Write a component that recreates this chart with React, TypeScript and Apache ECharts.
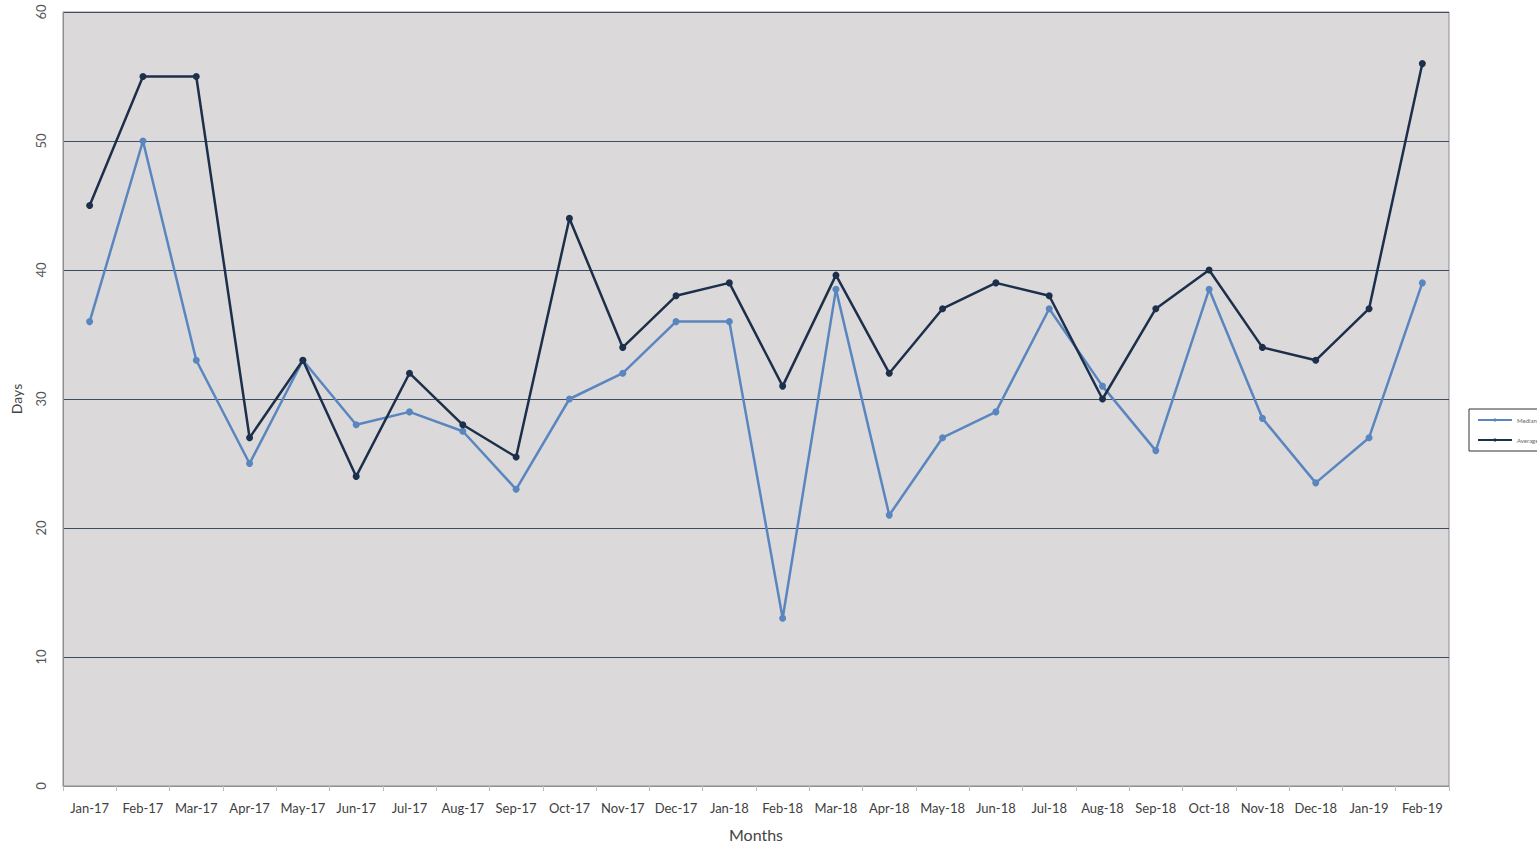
import React, { useEffect, useRef } from "react";
import * as echarts from "echarts";

const months = [
  "Jan-17", "Feb-17", "Mar-17", "Apr-17", "May-17", "Jun-17", "Jul-17", "Aug-17", "Sep-17",
  "Oct-17", "Nov-17", "Dec-17", "Jan-18", "Feb-18", "Mar-18", "Apr-18", "May-18", "Jun-18",
  "Jul-18", "Aug-18", "Sep-18", "Oct-18", "Nov-18", "Dec-18", "Jan-19", "Feb-19",
];

const median = [
  36, 50, 33, 25, 33, 28, 29, 27.5, 23, 30, 32, 36, 36, 13, 38.5, 21, 27, 29, 37, 31, 26, 38.5,
  28.5, 23.5, 27, 39,
];

const average = [
  45, 55, 55, 27, 33, 24, 32, 28, 25.5, 44, 34, 38, 39, 31, 39.6, 32, 37, 39, 38, 30, 37, 40, 34,
  33, 37, 56,
];

const yTicks = { min: 0, max: 60, interval: 10 };

export default function App() {
  const ref = useRef<HTMLDivElement>(null);
  useEffect(() => {
    if (!ref.current) return;
    const chart = echarts.init(ref.current, undefined, { renderer: "svg" });
    const font = "Lato, 'Liberation Sans', sans-serif";
    chart.setOption({
      animation: false,
      backgroundColor: "#ffffff",
      textStyle: { fontFamily: font },
      grid: {
        left: 63,
        right: 88,
        top: 12,
        bottom: 60,
        outerBoundsMode: "none",
        containLabel: false,
        show: true,
        backgroundColor: "#dcd9da",
        borderColor: "#8f8f8f",
        borderWidth: 1,
      },
      legend: {
        orient: "vertical",
        left: 1469,
        top: 409,
        itemWidth: 34,
        itemHeight: 4,
        itemGap: 14,
        padding: [8, 40, 8, 8],
        borderColor: "#333333",
        borderWidth: 1,
        textStyle: { fontSize: 6, color: "#666" },
        data: ["Median", "Average"],
      },
      xAxis: {
        type: "category",
        data: months,
        boundaryGap: true,
        name: "Months",
        nameLocation: "middle",
        nameGap: 40,
        nameTextStyle: { fontSize: 16, color: "#444", fontFamily: font },
        axisLine: { lineStyle: { color: "#8f8f8f" } },
        axisTick: { show: true, length: 5, lineStyle: { color: "#bdbdbd" } },
        axisLabel: { fontSize: 13, color: "#404040", margin: 15, interval: 0 },
      },
      yAxis: {
        type: "value",
        min: yTicks.min,
        max: yTicks.max,
        interval: yTicks.interval,
        name: "Days",
        nameLocation: "middle",
        nameGap: 40,
        nameRotate: 90,
        nameTextStyle: { fontSize: 14, color: "#444", fontFamily: font },
        axisLine: { show: true, lineStyle: { color: "#8f8f8f" } },
        axisTick: { show: false },
        axisLabel: { fontSize: 13, color: "#555", rotate: 90, margin: 16 },
        splitLine: { lineStyle: { color: "#3e4d63", width: 1.2 } },
      },
      series: [
        {
          name: "Median",
          type: "line",
          data: median,
          symbol: "circle",
          symbolSize: 7,
          lineStyle: { color: "#5a86bf", width: 2.5 },
          itemStyle: { color: "#5a86bf" },
          z: 2,
        },
        {
          name: "Average",
          type: "line",
          data: average,
          symbol: "circle",
          symbolSize: 7,
          lineStyle: { color: "#1c2f4b", width: 2.5 },
          itemStyle: { color: "#1c2f4b" },
          z: 3,
        },
      ],
    });
    return () => chart.dispose();
  }, []);
  return (
    <div
      ref={ref}
      style={{ position: "fixed", left: 0, top: 0, width: 1537, height: 846 }}
    />
  );
}
